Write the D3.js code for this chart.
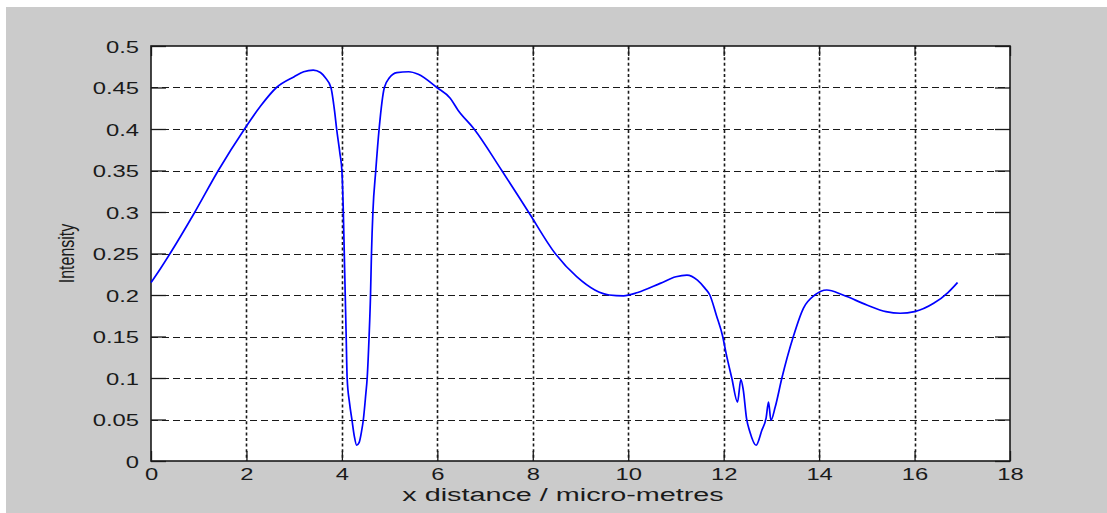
<!DOCTYPE html>
<html>
<head>
<meta charset="utf-8">
<script src="https://cdn.jsdelivr.net/npm/d3@7"></script>
<style>
  html, body { margin: 0; padding: 0; background: #ffffff; }
  svg { display: block; }
  text { font-family: "Liberation Sans", Arial, sans-serif; fill: #1a1a1a; }
</style>
</head>
<body>
<svg id="chart" width="1107" height="513"></svg>
<script>
// ---- data ----
const xValues = [0, 0.2, 0.4, 0.92, 1.41, 1.96, 2.3, 2.63, 3.0, 3.2, 3.4, 3.55, 3.65, 3.77, 3.85, 3.89, 3.96,
  4.0, 4.03, 4.05, 4.07, 4.09, 4.11, 4.16, 4.21, 4.26, 4.31, 4.36, 4.41, 4.45, 4.5, 4.53, 4.57, 4.6, 4.62,
  4.65, 4.71, 4.78, 4.89, 5.0, 5.15, 5.4, 5.6, 5.99, 6.27, 6.43, 6.77, 7.35, 7.91, 8.47, 8.92, 9.3, 9.6,
  9.9, 10.2, 10.67, 11.0, 11.23, 11.45, 11.61, 11.71, 11.85, 11.98, 12.05, 12.17, 12.29, 12.36, 12.41,
  12.48, 12.55, 12.68, 12.8, 12.89, 12.94, 12.99, 13.08, 13.22, 13.46, 13.67, 13.91, 14.16, 14.5, 15.0,
  15.4, 15.7, 16.0, 16.4, 16.7, 16.9];
const intensity = [0.215, 0.232, 0.25, 0.30, 0.35, 0.40, 0.428, 0.45, 0.463, 0.469, 0.471, 0.468, 0.462, 0.45,
  0.42, 0.40, 0.37, 0.35, 0.30, 0.25, 0.20, 0.15, 0.10, 0.07, 0.05, 0.03, 0.019, 0.022, 0.035, 0.05, 0.08,
  0.10, 0.15, 0.20, 0.25, 0.30, 0.35, 0.40, 0.45, 0.462, 0.468, 0.469, 0.466, 0.45, 0.437, 0.423, 0.40,
  0.35, 0.30, 0.25, 0.222, 0.206, 0.200, 0.199, 0.203, 0.214, 0.222, 0.224, 0.218, 0.208, 0.20, 0.175,
  0.15, 0.13, 0.10, 0.071, 0.098, 0.086, 0.051, 0.035, 0.019, 0.037, 0.052, 0.071, 0.049, 0.065, 0.10,
  0.15, 0.184, 0.20, 0.206, 0.200, 0.188, 0.180, 0.178, 0.180, 0.190, 0.203, 0.215];
const xTicks = [0, 2, 4, 6, 8, 10, 12, 14, 16, 18];
const xTickLabels = ["0", "2", "4", "6", "8", "10", "12", "14", "16", "18"];
const yTicks = [0, 0.05, 0.1, 0.15, 0.2, 0.25, 0.3, 0.35, 0.4, 0.45, 0.5];
const yTickLabels = ["0", "0.05", "0.1", "0.15", "0.2", "0.25", "0.3", "0.35", "0.4", "0.45", "0.5"];
const xLabel = "x distance / micro-metres";
const yLabel = "Intensity";

// ---- layout ----
const W = 1107, H = 513;
const L = 151, R = 1010, T = 46, B = 461;
const SX = 1.4; // horizontal stretch of the text in the reference

const svg = d3.select("#chart");
svg.append("rect").attr("x", 6).attr("y", 7).attr("width", W - 6).attr("height", H - 7).attr("fill", "#cbcbcb");
svg.append("rect").attr("x", L).attr("y", T).attr("width", R - L).attr("height", B - T).attr("fill", "#ffffff");

const x = d3.scaleLinear().domain([0, 18]).range([L, R]);
const y = d3.scaleLinear().domain([0, 0.5]).range([B, T]);

// grid
const grid = svg.append("g");
grid.selectAll("line.v").data(xTicks.filter(d => d > 0 && d < 18)).join("line")
  .attr("class", "v")
  .attr("x1", d => Math.round(x(d)) + 0.5).attr("x2", d => Math.round(x(d)) + 0.5)
  .attr("y1", T).attr("y2", B)
  .attr("stroke", "#1a1a1a").attr("stroke-width", 1.6).attr("stroke-dasharray", "3,2.6");
grid.selectAll("line.h").data(yTicks.filter(d => d > 0 && d < 0.5)).join("line")
  .attr("class", "h")
  .attr("x1", L).attr("x2", R)
  .attr("y1", d => Math.round(y(d)) + 0.5).attr("y2", d => Math.round(y(d)) + 0.5)
  .attr("stroke", "#1a1a1a").attr("stroke-width", 1).attr("stroke-dasharray", "7,4");

// axes (ticks inward)
const fmtX = (d, i) => xTickLabels[i];
const fmtY = (d, i) => yTickLabels[i];
const gx = svg.append("g").attr("transform", `translate(0,${B})`)
  .call(d3.axisBottom(x).tickValues(xTicks).tickFormat(fmtX).tickSizeInner(-10).tickSizeOuter(0));
const gy = svg.append("g").attr("transform", `translate(${L},0)`)
  .call(d3.axisLeft(y).tickValues(yTicks).tickFormat(fmtY).tickSizeInner(-15).tickSizeOuter(0));
const gt = svg.append("g").attr("transform", `translate(0,${T})`)
  .call(d3.axisTop(x).tickValues(xTicks).tickFormat("").tickSizeInner(-10).tickSizeOuter(0));
const gr = svg.append("g").attr("transform", `translate(${R},0)`)
  .call(d3.axisRight(y).tickValues(yTicks).tickFormat("").tickSizeInner(-15).tickSizeOuter(0));

[gx, gy, gt, gr].forEach(g => {
  g.select(".domain").remove();
  g.selectAll(".tick line").attr("stroke", "#1a1a1a").attr("stroke-width", 1.3);
  g.attr("font-family", null).attr("font-size", null);
});
gx.selectAll(".tick text")
  .attr("y", null).attr("dy", null)
  .attr("font-size", 17).attr("fill", "#1a1a1a")
  .attr("text-anchor", "middle")
  .attr("transform", `translate(0,19) scale(${SX},1)`);
gy.selectAll(".tick text")
  .attr("x", null).attr("dy", null)
  .attr("font-size", 17).attr("fill", "#1a1a1a")
  .attr("text-anchor", "end")
  .attr("transform", `translate(-12,6) scale(${SX},1)`);

// plot box
svg.append("rect").attr("x", L).attr("y", T).attr("width", R - L).attr("height", B - T)
  .attr("fill", "none").attr("stroke", "#1a1a1a").attr("stroke-width", 1.6);

// curve
const line = d3.line().x((d, i) => x(xValues[i])).y(d => y(d)).curve(d3.curveMonotoneX);
svg.append("path").datum(intensity)
  .attr("d", line)
  .attr("fill", "none").attr("stroke", "#0000ff").attr("stroke-width", 1.7)
  .attr("stroke-linejoin", "round");

// axis labels
svg.append("text")
  .attr("transform", `translate(563,${B + 40}) scale(1.6,1)`)
  .attr("text-anchor", "middle").attr("font-size", 18)
  .text(xLabel);
svg.append("text")
  .attr("transform", `translate(74,${(T + B) / 2}) scale(${SX},1) rotate(-90)`)
  .attr("text-anchor", "middle").attr("font-size", 16)
  .text(yLabel);
</script>
</body>
</html>
